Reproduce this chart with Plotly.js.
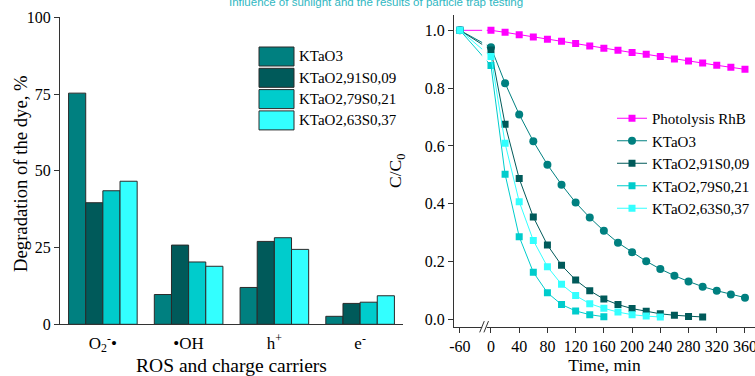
<!DOCTYPE html>
<html>
<head>
<meta charset="utf-8">
<script src="https://cdn.plot.ly/plotly-3.0.1.min.js"></script>
<style>html,body{margin:0;padding:0;background:#fff}#chart{width:755px;height:376px}</style>
</head>
<body>
<div id="chart"></div>
<script>
// ---- Left chart data (bar) ----
const carriers = ['O<sub>2</sub><sup>-</sup>•', '•OH', 'h<sup>+</sup>', 'e<sup>-</sup>'];
const barNames = ['KTaO3', 'KTaO2,91S0,09', 'KTaO2,79S0,21', 'KTaO2,63S0,37'];
const barKTaO3 = [75.3, 9.7, 12.0, 2.6];
const barS009 = [39.6, 25.8, 27.0, 6.8];
const barS021 = [43.5, 20.3, 28.2, 7.2];
const barS037 = [46.6, 18.9, 24.4, 9.3];
const barColors = ['#008080', '#005a5a', '#00cccc', '#33ffff'];

// ---- Right chart data (kinetics) ----
const tPhot = [-60, 0, 20, 40, 60, 80, 100, 120, 140, 160, 180, 200, 220, 240, 260, 280, 300, 320, 340, 360];
const yPhot = [1.0, 1.0, 0.993, 0.985, 0.977, 0.969, 0.962, 0.954, 0.946, 0.938, 0.931, 0.923, 0.917, 0.909, 0.901, 0.894, 0.887, 0.879, 0.872, 0.865];
const tK = [-60, 0, 20, 40, 60, 80, 100, 120, 140, 160, 180, 200, 220, 240, 260, 280, 300, 320, 340, 360];
const yK = [1.0, 0.941, 0.817, 0.709, 0.616, 0.535, 0.466, 0.404, 0.352, 0.306, 0.265, 0.232, 0.201, 0.174, 0.151, 0.131, 0.113, 0.099, 0.086, 0.075];
const t009 = [-60, 0, 20, 40, 60, 80, 100, 120, 140, 160, 180, 200, 220, 240, 260, 280, 300];
const y009 = [1.0, 0.932, 0.675, 0.487, 0.354, 0.257, 0.187, 0.136, 0.099, 0.070, 0.051, 0.037, 0.028, 0.019, 0.014, 0.010, 0.008];
const t021 = [-60, 0, 20, 40, 60, 80, 100, 120, 140, 160];
const y021 = [1.0, 0.878, 0.502, 0.286, 0.163, 0.092, 0.051, 0.029, 0.016, 0.009];
const t037 = [-60, 0, 20, 40, 60, 80, 100, 120, 140, 160, 180, 200, 220, 240];
const y037 = [1.0, 0.909, 0.609, 0.407, 0.273, 0.182, 0.121, 0.082, 0.054, 0.038, 0.025, 0.016, 0.011, 0.008];
const timeTicks = [-60, 0, 40, 80, 120, 160, 200, 240, 280, 320, 360];

// broken axis: the -60 min point is drawn closer to 0
const BREAK_POS = -44;
const pos = t => (t < 0 ? BREAK_POS : t);

const serif = 'Liberation Serif, Times New Roman, serif';

const barSeries = [barKTaO3, barS009, barS021, barS037];
const traces = [];
barSeries.forEach((vals, i) => {
  traces.push({
    type: 'bar', x: carriers, y: vals, name: barNames[i],
    marker: {color: barColors[i], line: {color: '#2a2a2a', width: 1}},
    xaxis: 'x', yaxis: 'y', showlegend: false
  });
});

const lineSeries = [
  {name: 'Photolysis RhB', t: tPhot, y: yPhot, color: '#ff00ff', symbol: 'square'},
  {name: 'KTaO3', t: tK, y: yK, color: '#008080', symbol: 'circle'},
  {name: 'KTaO2,91S0,09', t: t009, y: y009, color: '#005a5a', symbol: 'square'},
  {name: 'KTaO2,79S0,21', t: t021, y: y021, color: '#00cccc', symbol: 'square'},
  {name: 'KTaO2,63S0,37', t: t037, y: y037, color: '#33ffff', symbol: 'square'}
];
lineSeries.forEach(s => {
  traces.push({
    type: 'scatter', mode: 'lines+markers', name: s.name,
    x: s.t.map(pos), y: s.y, xaxis: 'x2', yaxis: 'y2',
    line: {color: s.color, width: 1},
    marker: {color: s.color, symbol: s.symbol, size: s.symbol === 'circle' ? 8 : 7},
    legend: 'legend'
  });
});

// manual legend for bars
const shapes = [];
const annotations = [];
const legX0 = 259, legX1 = 294, legTop = 47, legStep = 21.3, legH = 19;
barNames.forEach((n, i) => {
  const yT = legTop + i * legStep;
  shapes.push({type: 'rect', xref: 'paper', yref: 'paper',
    x0: legX0 / 755, x1: legX1 / 755, y0: 1 - (yT + legH) / 376, y1: 1 - yT / 376,
    fillcolor: barColors[i], line: {color: '#2a2a2a', width: 1}});
  annotations.push({xref: 'paper', yref: 'paper', x: 297 / 755, y: 1 - (yT + legH / 2) / 376,
    xanchor: 'left', yanchor: 'middle', showarrow: false, text: n,
    font: {family: serif, size: 15, color: '#000'}});
});

// axis break on the time axis
shapes.push({type: 'rect', xref: 'x2', yref: 'paper', x0: -12.5, x1: -6, y0: 0.1, y1: 0.97,
  fillcolor: '#ffffff', line: {width: 0}, layer: 'above'});
shapes.push({type: 'line', xref: 'x2', yref: 'paper', x0: -16, x1: -9.5, y0: 0.116, y1: 0.146,
  line: {color: '#333', width: 1}, layer: 'above'});
shapes.push({type: 'line', xref: 'x2', yref: 'paper', x0: -10, x1: -3.5, y0: 0.116, y1: 0.146,
  line: {color: '#333', width: 1}, layer: 'above'});

annotations.push({xref: 'paper', yref: 'paper', x: 376 / 755, y: 1 - 2 / 376, xanchor: 'center', yanchor: 'middle',
  showarrow: false, text: 'Influence of sunlight and the results of particle trap testing',
  font: {family: 'Liberation Sans, Arial, sans-serif', size: 11.5, color: '#2fb7c2'}});

// left y-axis title placed to match the reference
annotations.push({xref: 'paper', yref: 'paper', x: 20 / 755, y: 1 - 174 / 376, xanchor: 'center', yanchor: 'middle',
  showarrow: false, textangle: -90, text: 'Degradation of the dye, %',
  font: {family: serif, size: 18.7, color: '#000'}});

const layout = {
  width: 755, height: 376,
  margin: {l: 0, r: 0, t: 0, b: 0},
  paper_bgcolor: '#fff', plot_bgcolor: '#fff',
  font: {family: serif, color: '#000', size: 15},
  barmode: 'group', bargap: 0.2, bargroupgap: 0,
  xaxis: {
    domain: [60 / 755, 403 / 755], range: [-0.5, 3.5], type: 'category',
    showline: true, linecolor: '#333', linewidth: 1, ticks: '', showgrid: false, zeroline: false,
    tickfont: {family: serif, size: 17}, ticklabelstandoff: 3,
    title: {text: 'ROS and charge carriers', font: {family: serif, size: 19.5}, standoff: 6}
  },
  yaxis: {
    domain: [1 - 324.3 / 376, 1 - 17.3 / 376], range: [0, 100],
    tickvals: [0, 25, 50, 75, 100], showline: true, linecolor: '#333', linewidth: 1,
    ticks: 'outside', ticklen: 5, tickcolor: '#333', showgrid: false, zeroline: false,
    tickfont: {family: serif, size: 16}
  },
  xaxis2: {
    domain: [454 / 755, 1], range: [-52.4, 374.2], anchor: 'y2',
    tickvals: timeTicks.map(pos), ticktext: timeTicks.map(String), ticklabeloverflow: 'allow',
    showline: true, linecolor: '#333', linewidth: 1, ticks: 'outside', ticklen: 5, tickcolor: '#333',
    showgrid: false, zeroline: false, tickfont: {family: serif, size: 16},
    title: {text: 'Time, min', font: {family: serif, size: 17.5}, standoff: 3}
  },
  yaxis2: {
    domain: [1 - 326.7 / 376, 1 - 15 / 376], range: [-0.0256, 1.053], anchor: 'x2',
    tickvals: [0, 0.2, 0.4, 0.6, 0.8, 1.0], ticktext: ['0.0', '0.2', '0.4', '0.6', '0.8', '1.0'],
    showline: true, linecolor: '#333', linewidth: 1, ticks: 'outside', ticklen: 5, tickcolor: '#333',
    showgrid: false, zeroline: false, tickfont: {family: serif, size: 16},
    title: {text: 'C/C<sub>0</sub>', font: {family: serif, size: 17.5}, standoff: 18}
  },
  showlegend: true,
  legend: {x: 612 / 755, y: 1 - 102 / 376, xanchor: 'left', yanchor: 'top',
    bgcolor: 'rgba(0,0,0,0)', font: {family: serif, size: 15}, tracegroupgap: 0,
    itemwidth: 30},
  shapes: shapes,
  annotations: annotations
};

Plotly.newPlot('chart', traces, layout, {displayModeBar: false, staticPlot: true});
</script>
</body>
</html>
